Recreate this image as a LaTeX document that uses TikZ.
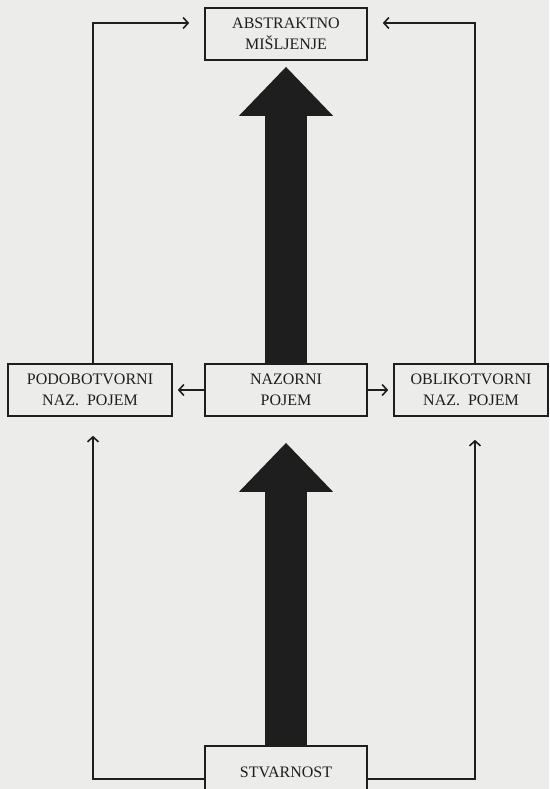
\documentclass[tikz,border=0pt]{standalone}
\usepackage{fontspec}
\setmainfont{Liberation Serif}
\usepackage{xcolor}
\usetikzlibrary{arrows.meta,calc}
\definecolor{paper}{RGB}{236,236,234}
\definecolor{ink}{RGB}{30,30,30}

\begin{document}
\begin{tikzpicture}[x = 1pt, y = -1pt, every node/.style={anchor = center, font = \fontsize{16}{21}\selectfont, text = ink},
  box/.style = {draw = ink, line width = 1.6pt, fill = paper, align = center, minimum width = 162pt, minimum height = 52pt},
  thin/.style = {draw = ink, line width = 1.6pt, -{Straight Barb[length = 5pt, width = 11pt]}},
  fat/.style = {draw = ink, line width = 42pt, -{Triangle[length = 49pt, width = 91pt]}}]
\fill[paper] (0,0) rectangle (549,789);
\useasboundingbox (0,0) rectangle (549,789);
\clip (0,0) rectangle (549,789);
\node[box] (am) at (286,34) {ABSTRAKTNO\\MIŠLJENJE};
\node[box] (np) at (286,390) {NAZORNI\\POJEM};
\node[box, minimum width = 164pt] (pp) at (90,390) {PODOBOTVORNI\\NAZ.~~POJEM};
\node[box, minimum width = 154pt] (op) at (471,390) {OBLIKOTVORNI\\NAZ.~~POJEM};
\node[box] (st) at (286,772) {STVARNOST};
\draw[fat, shorten > = 6pt] (np.north) -- (am.south);
\draw[fat, shorten > = 26pt] (st.north) -- (np.south);
\draw[thin, shorten > = 5pt] (np.west) -- (pp.east);
\draw[thin, shorten > = 5pt] (np.east) -- (op.east -| op.west);
\draw[thin, shorten > = 15pt] ([xshift = 3pt]pp.north) |- ([yshift = 11pt]am.west);
\draw[thin, shorten > = 15pt] ([xshift = 4pt]op.north) |- ([yshift = 11pt]am.east);
\draw[thin, shorten > = 19pt] ([yshift = -7pt]st.west) -| ([xshift = 3pt]pp.south);
\draw[thin, shorten > = 23pt] ([yshift = -7pt]st.east) -| ([xshift = 4pt]op.south);
\end{tikzpicture}
\end{document}
